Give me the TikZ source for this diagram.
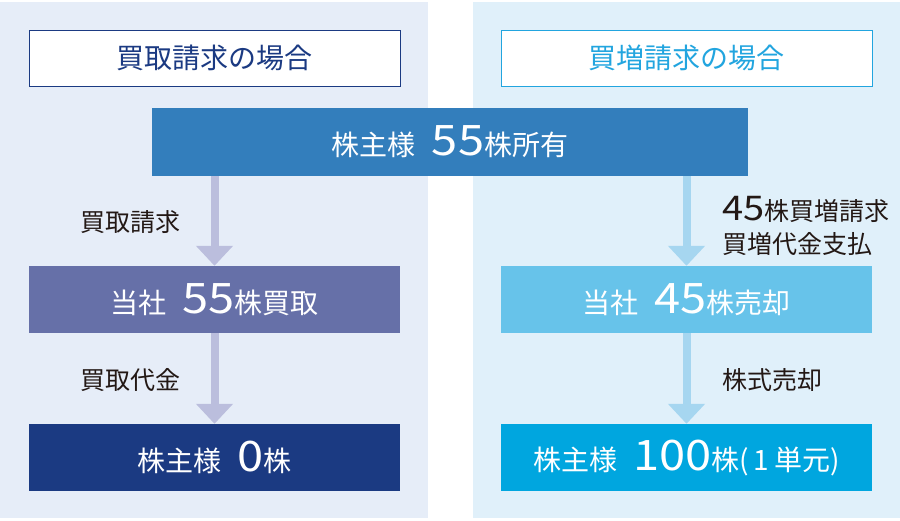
\documentclass[tikz,border=0pt]{standalone}
\usepackage{fontspec}
\setmainfont{Noto Sans CJK JP}
\newfontfamily\numfont[FakeStretch=1.12]{Noto Sans CJK JP}
\usetikzlibrary{arrows.meta}
\definecolor{panelL}{HTML}{E6EDF8}
\definecolor{panelR}{HTML}{E0F0FA}
\definecolor{navy}{HTML}{1B3A82}
\definecolor{skyT}{HTML}{22A5DF}
\definecolor{barC}{HTML}{337EBC}
\definecolor{midL}{HTML}{6670A8}
\definecolor{midR}{HTML}{67C3EA}
\definecolor{botR}{HTML}{00A6DF}
\definecolor{arrL}{HTML}{BBBEDD}
\definecolor{arrR}{HTML}{A6D6F0}
\definecolor{lbl}{HTML}{231815}
\tikzset{
  titlebox/.style={draw=#1,line width=1pt,fill=white,text=#1,minimum width=371pt,minimum height=56pt,inner sep=0pt,font=\fontsize{28}{32}\selectfont},
  flowbox/.style={fill=#1,text=white,minimum width=371pt,minimum height=67pt,inner sep=0pt,font=\fontsize{28}{32}\selectfont},
  lbltext/.style={text=lbl,anchor=west,inner sep=0pt,font=\fontsize{25}{33}\selectfont,align=left},
  fatarrow/.style={draw=#1,line width=8pt,-{Triangle[width=36pt,length=20pt,color=#1]},shorten >=0pt}
}
\newcommand{\bignum}[1]{{\numfont\fontsize{42}{42}\selectfont #1}}
\begin{document}
\begin{tikzpicture}[x=1pt,y=-1pt]
\useasboundingbox (0,0) rectangle (900,520);
\fill[panelL] (0,2) rectangle (428,518);
\fill[panelR] (473,2) rectangle (900,518);
\node[titlebox=navy] (tl) at (214.5,58) {買取請求の場合};
\node[titlebox=skyT] (tr) at (686.5,58) {買増請求の場合};
\node[fill=barC,text=white,minimum width=596pt,minimum height=68pt,inner sep=0pt,font=\fontsize{28}{32}\selectfont] (bar) at (450,142) {株主様\hspace{16pt}\bignum{55}株所有};
\node[flowbox=midL] (ml) at (214.5,299.5) {当社\hspace{16pt}\bignum{55}株買取};
\node[flowbox=navy] (bl) at (214.5,457.5) {株主様\hspace{16pt}\bignum{0}株};
\node[flowbox=midR] (mr) at (686.5,299.5) {当社\hspace{16pt}\bignum{45}株売却};
\node[flowbox=botR] (br) at (686.5,457.5) {株主様\hspace{16pt}\bignum{100}株(\,1\,単元)};
\coordinate (a1s) at (bar.south -| ml.north);
\coordinate (a2s) at (bar.south -| mr.north);
\draw[fatarrow=arrL] (a1s) -- (ml.north);
\draw[fatarrow=arrL] (ml.south) -- (bl.north);
\draw[fatarrow=arrR] (a2s) -- (mr.north);
\draw[fatarrow=arrR] (mr.south) -- (br.north);
\node[lbltext] (l1) at (80,222) {買取請求};
\node[lbltext] (l2) at (80,380) {買取代金};
\node[lbltext] (r1) at (722,226) {{\numfont\fontsize{34}{34}\selectfont 45}株買増請求\\買増代金支払};
\node[lbltext] (r2) at (722,380) {株式売却};
\end{tikzpicture}
\end{document}
